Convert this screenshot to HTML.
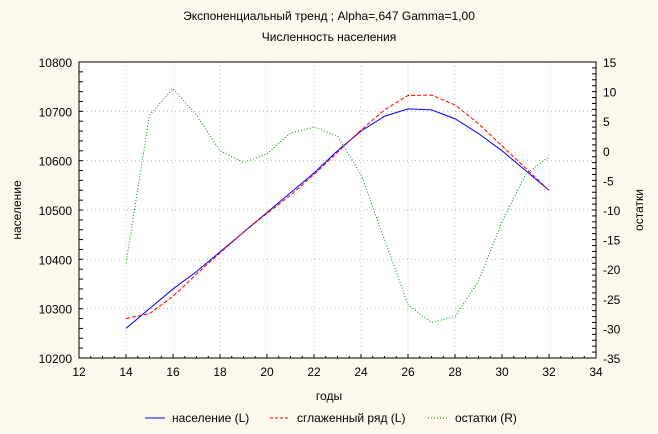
<!DOCTYPE html>
<html><head><meta charset="utf-8"><style>
body{margin:0;background:#fdf8ec;}
svg{display:block;font-family:"Liberation Sans",sans-serif;}
</style></head><body>
<svg id="s" width="658" height="434" xmlns="http://www.w3.org/2000/svg">
<rect width="658" height="434" fill="#fdf8ec"/>
<rect x="79" y="62" width="517" height="296" fill="#fff"/>
<text x="329" y="20" font-size="12" text-anchor="middle">Экспоненциальный тренд ; Alpha=,647 Gamma=1,00</text>
<text x="329" y="41" font-size="12" text-anchor="middle">Численность населения</text>
<text x="329" y="400" font-size="12" text-anchor="middle">годы</text>
<text transform="translate(21,210) rotate(-90)" font-size="12" text-anchor="middle">население</text>
<text transform="translate(643,210) rotate(-90)" font-size="12" text-anchor="middle">остатки</text>
<g id="g"></g>
<line x1="145" y1="418" x2="165" y2="418" stroke="#00f"/>
<text x="172" y="422" font-size="12">население (L)</text>
<line x1="270" y1="418" x2="290" y2="418" stroke="#f00" stroke-dasharray="3,2"/>
<text x="297" y="422" font-size="12">сглаженный ряд (L)</text>
<line x1="428" y1="418" x2="448" y2="418" stroke="#080" stroke-dasharray="1,2"/>
<text x="455" y="422" font-size="12">остатки (R)</text>
</svg>
<script>
var g=document.getElementById('g'),h='';
function X(v){return 79+(v-12)*517/22}
function YL(v){return 358-(v-10200)*296/600}
function YR(v){return 358-(v+35)*296/50}
for(var v=14;v<34;v+=2)h+='<line x1="'+X(v)+'" y1="62" x2="'+X(v)+'" y2="358" stroke="#bbb" stroke-dasharray="1,3"/>';
for(var v=10300;v<10800;v+=100)h+='<line x1="79" y1="'+YL(v)+'" x2="596" y2="'+YL(v)+'" stroke="#bbb" stroke-dasharray="1,3"/>';
h+='<rect x="79" y="62" width="517" height="296" fill="none" stroke="#000"/>';
for(var v=12;v<=34;v+=2){h+='<text x="'+X(v)+'" y="376" font-size="12" text-anchor="middle">'+v+'</text><line x1="'+X(v)+'" y1="358" x2="'+X(v)+'" y2="354" stroke="#000"/>';}
for(var v=12;v<34;v+=0.5)h+='<line x1="'+X(v)+'" y1="358" x2="'+X(v)+'" y2="356" stroke="#000"/>';
for(var v=10200;v<=10800;v+=100)h+='<text x="72" y="'+(YL(v)+5)+'" font-size="12" text-anchor="end">'+v+'</text>';
for(var v=10200;v<10800;v+=20)h+='<line x1="79" y1="'+YL(v)+'" x2="83" y2="'+YL(v)+'" stroke="#000"/>';
for(var v=-35;v<=15;v+=5)h+='<text x="603" y="'+(YR(v)+5)+'" font-size="12">'+v+'</text>';
for(var v=-35;v<15;v+=1)h+='<line x1="596" y1="'+YR(v)+'" x2="592" y2="'+YR(v)+'" stroke="#000"/>';
var a=[10260,10300,10340,10375,10415,10455,10495,10535,10575,10620,10660,10690,10705,10703,10685,10655,10620,10580,10540];
var b=[10280,10290,10325,10370,10413,10455,10493,10530,10572,10617,10662,10703,10732,10733,10713,10675,10630,10585,10540];
var c=[-19,6,10.5,6,0,-2,-0.5,3,4,2.5,-4,-15,-26,-29,-28,-22,-12,-4,-1];
function P(arr,f,st,da){var p='';for(var i=0;i<arr.length;i++)p+=X(14+i)+','+f(arr[i])+' ';return '<polyline points="'+p+'" fill="none" stroke="'+st+'"'+(da?' stroke-dasharray="'+da+'"':'')+'/>';}
h+=P(c,YR,'#080','1,2')+P(a,YL,'#00f')+P(b,YL,'#f00','4,2');
g.innerHTML=h;
</script>
</body></html>
